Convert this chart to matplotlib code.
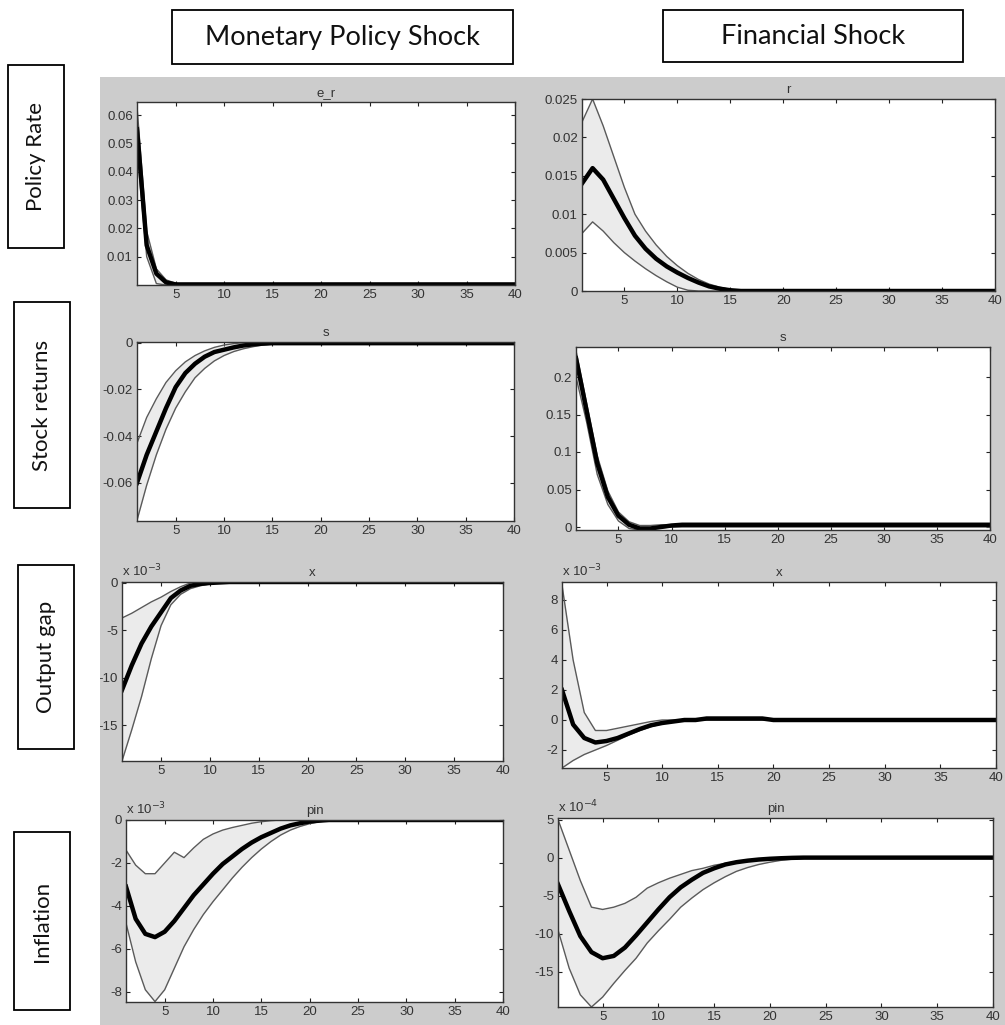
import matplotlib.pyplot as plt
from matplotlib.patches import Rectangle

W, H = 1005, 1025

PERIODS = list(range(1, 41))

# --- impulse responses (median and bands) ---------------------------------------
# monetary policy shock
er_mid = [0.055, 0.014, 0.004, 0.0009, 0.0002]
er_hi = [0.063, 0.019, 0.0057, 0.0018, 0.0006, 0.0001]
er_lo = [0.048, 0.010, 0.0005, 0.0]

s_mp_mid = [-0.060, -0.048, -0.038, -0.028, -0.019, -0.013, -0.009, -0.006, -0.004,
            -0.003, -0.002, -0.0012, -0.0007, -0.0004, -0.0002]
s_mp_hi = [-0.043, -0.032, -0.024, -0.017, -0.012, -0.0082, -0.0055, -0.0035, -0.002,
           -0.001, -0.0004, 0.0]
s_mp_lo = [-0.076, -0.061, -0.048, -0.037, -0.028, -0.021, -0.015, -0.011, -0.0078,
           -0.0055, -0.0038, -0.0026, -0.0017, -0.001, -0.0006, -0.0003]

# x 10^-3
x_mp_mid = [-11.3, -8.7, -6.4, -4.6, -3.1, -1.6, -0.8, -0.3, -0.1, 0.0, 0.05, 0.1, 0.1,
            0.1, 0.1]
x_mp_hi = [-3.7, -3.2, -2.6, -2.0, -1.5, -0.9, -0.4, 0.0, 0.2, 0.3, 0.3, 0.25, 0.2, 0.1]
x_mp_lo = [-18.8, -15.5, -12.0, -8.0, -4.5, -2.3, -1.2, -0.6, -0.3, -0.1, 0.0]

# x 10^-3
pi_mp_mid = [-3.1, -4.6, -5.3, -5.45, -5.2, -4.7, -4.1, -3.5, -3.0, -2.5, -2.05, -1.7,
             -1.35, -1.05, -0.8, -0.6, -0.4, -0.25, -0.15, -0.07, -0.03, 0.0]
pi_mp_hi = [-1.4, -2.1, -2.5, -2.5, -2.0, -1.5, -1.75, -1.3, -0.9, -0.65, -0.47, -0.35,
            -0.25, -0.15, -0.08, -0.03, 0.0]
pi_mp_lo = [-4.8, -6.6, -7.9, -8.45, -7.9, -6.9, -5.9, -5.1, -4.4, -3.8, -3.25, -2.7,
            -2.2, -1.75, -1.35, -1.0, -0.7, -0.47, -0.3, -0.17, -0.08, -0.03, 0.0]

# financial shock
r_fs_mid = [0.014, 0.016, 0.0145, 0.012, 0.0095, 0.0072, 0.0055, 0.0042, 0.0032, 0.0024,
            0.0017, 0.0011, 0.0006, 0.0003, 0.0001, 0.0]
r_fs_hi = [0.022, 0.025, 0.0215, 0.0175, 0.0135, 0.0100, 0.0078, 0.006, 0.0045, 0.0033,
           0.0023, 0.0015, 0.0009, 0.0005, 0.0002, 0.0]
r_fs_lo = [0.0075, 0.009, 0.0078, 0.0063, 0.005, 0.0039, 0.0029, 0.002, 0.0012, 0.0005,
           0.0001, 0.0]

s_fs_mid = [0.225, 0.155, 0.085, 0.04, 0.015, 0.003, -0.002, -0.002, 0.0, 0.002, 0.003]
s_fs_hi = [0.235, 0.165, 0.095, 0.048, 0.02, 0.007, 0.002, 0.002, 0.003]
s_fs_lo = [0.2, 0.14, 0.07, 0.03, 0.008, -0.002, -0.004, -0.003, -0.001, 0.0]

# x 10^-3
x_fs_mid = [2.0, -0.3, -1.2, -1.5, -1.4, -1.2, -0.9, -0.6, -0.35, -0.2, -0.1, 0.0, 0.0,
            0.1, 0.1, 0.1, 0.1, 0.1, 0.1, 0.0]
x_fs_hi = [9.0, 4.0, 0.5, -0.7, -0.7, -0.55, -0.4, -0.25, -0.1, 0.0]
x_fs_lo = [-3.2, -2.7, -2.3, -2.0, -1.7, -1.35, -1.0, -0.7, -0.45, -0.25, -0.1, 0.0]

# x 10^-4
pi_fs_mid = [-3.5, -7.0, -10.3, -12.4, -13.2, -12.9, -11.8, -10.2, -8.5, -6.8, -5.2,
             -3.9, -2.9, -2.0, -1.4, -0.9, -0.6, -0.4, -0.25, -0.15, -0.08, -0.03, 0.0]
pi_fs_hi = [5.0, 1.0, -3.0, -6.5, -6.8, -6.5, -6.0, -5.2, -4.0, -3.3, -2.7, -2.2, -1.7,
            -1.4, -1.0, -0.75, -0.5, -0.35, -0.2, -0.1, -0.05, 0.0]
pi_fs_lo = [-9.5, -14.5, -18.0, -19.6, -18.3, -16.5, -14.8, -13.2, -11.2, -9.6, -8.1,
            -6.5, -5.3, -4.2, -3.3, -2.5, -1.8, -1.3, -0.9, -0.6, -0.35, -0.2, -0.1, 0.0]

COL_HEADERS = ["Monetary Policy Shock", "Financial Shock"]
ROW_LABELS = ["Policy Rate", "Stock returns", "Output gap", "Inflation"]


def pad(vals, n=40):
    # responses have died out: hold the last value to the horizon
    return vals + [vals[-1]] * (n - len(vals))


def px(x0, y0, x1, y1):
    return [x0 / W, 1 - y1 / H, (x1 - x0) / W, (y1 - y0) / H]


TICK_FONT = {"family": "Liberation Sans", "size": 9.5}

# panel: (pixel box, title, mid, hi, lo, ylim, yticks, yticklabels, exponent)
PANELS = [
    ((137, 102, 515, 285), "e_r", er_mid, er_hi, er_lo, (0, 0.0646),
     [0.01, 0.02, 0.03, 0.04, 0.05, 0.06], None, None),
    ((582, 99, 995, 291), "r", r_fs_mid, r_fs_hi, r_fs_lo, (0, 0.025),
     [0, 0.005, 0.01, 0.015, 0.02, 0.025], ["0", "0.005", "0.01", "0.015", "0.02", "0.025"], None),
    ((137, 342, 514, 521), "s", s_mp_mid, s_mp_hi, s_mp_lo, (-0.0763, 0.0003),
     [-0.06, -0.04, -0.02, 0], ["-0.06", "-0.04", "-0.02", "0"], None),
    ((576, 347, 990, 530), "s", s_fs_mid, s_fs_hi, s_fs_lo, (-0.004, 0.24),
     [0, 0.05, 0.1, 0.15, 0.2], ["0", "0.05", "0.1", "0.15", "0.2"], None),
    ((122, 582, 503, 761), "x", x_mp_mid, x_mp_hi, x_mp_lo, (-18.8, 0.1),
     [-15, -10, -5, 0], ["-15", "-10", "-5", "0"], "-3"),
    ((562, 582, 996, 768), "x", x_fs_mid, x_fs_hi, x_fs_lo, (-3.2, 9.2),
     [-2, 0, 2, 4, 6, 8], ["-2", "0", "2", "4", "6", "8"], "-3"),
    ((126, 820, 503, 1002), "pin", pi_mp_mid, pi_mp_hi, pi_mp_lo, (-8.47, 0),
     [-8, -6, -4, -2, 0], ["-8", "-6", "-4", "-2", "0"], "-3"),
    ((558, 818, 993, 1007), "pin", pi_fs_mid, pi_fs_hi, pi_fs_lo, (-19.6, 5.2),
     [-15, -10, -5, 0, 5], ["-15", "-10", "-5", "0", "5"], "-4"),
]

fig = plt.figure(figsize=(W / 100, H / 100), dpi=100)
fig.patch.set_facecolor("white")

# MATLAB figure background
fig.patches.append(Rectangle((100 / W, 0), 1 - 100 / W, 1 - 77 / H,
                             transform=fig.transFigure, facecolor="#cccccc",
                             edgecolor="none", zorder=-5))

for box, title, mid, hi, lo, ylim, yticks, ylabels, expo in PANELS:
    ax = fig.add_axes(px(*box))
    mid, hi, lo = pad(mid), pad(hi), pad(lo)
    ax.fill_between(PERIODS, lo, hi, color="#ebebeb", linewidth=0)
    ax.plot(PERIODS, hi, color="#5a5a5a", linewidth=1.0)
    ax.plot(PERIODS, lo, color="#5a5a5a", linewidth=1.0)
    ax.plot(PERIODS, mid, color="black", linewidth=3.2)
    ax.set_xlim(1, 40)
    ax.set_ylim(*ylim)
    ax.set_xticks(range(5, 41, 5))
    ax.set_yticks(yticks)
    if ylabels is not None:
        ax.set_yticklabels(ylabels)
    ax.tick_params(direction="in", length=3, width=0.8, top=True, right=True,
                   colors="#222222", labelcolor="#333333", labelsize=9.5, pad=3)
    for lab in ax.get_xticklabels() + ax.get_yticklabels():
        lab.set_fontfamily("Liberation Sans")
    for sp in ax.spines.values():
        sp.set_color("#333333")
        sp.set_linewidth(1.0)
    ax.set_title(title, fontdict=TICK_FONT, color="#333333", pad=4)
    if expo is not None:
        ax.text(0.0, 1.015, r"x 10$^{%s}$" % expo, transform=ax.transAxes,
                fontdict=TICK_FONT, color="#333333", va="bottom", ha="left")

# white strip left of the grey background (clips the minus signs, as in the source)
fig.patches.append(Rectangle((0, 0), 100 / W, 1, transform=fig.transFigure,
                             facecolor="white", edgecolor="none", zorder=5))

# column headers
for (x0, y0, x1, y1), text in zip([(172, 10, 513, 64), (663, 10, 963, 62)], COL_HEADERS):
    fig.patches.append(Rectangle((x0 / W, 1 - y1 / H), (x1 - x0) / W, (y1 - y0) / H,
                                 transform=fig.transFigure, facecolor="white",
                                 edgecolor="black", linewidth=1.3, zorder=6))
    fig.text((x0 + x1) / 2 / W, 1 - (y0 + y1) / 2 / H, text, ha="center", va="center",
             fontsize=19.5, family="Lato", color="#111111", zorder=7)

# row labels
ROW_BOXES = [(8, 65, 64, 248), (14, 302, 70, 508), (18, 565, 74, 749), (14, 832, 70, 1010)]
for (x0, y0, x1, y1), text in zip(ROW_BOXES, ROW_LABELS):
    fig.patches.append(Rectangle((x0 / W, 1 - y1 / H), (x1 - x0) / W, (y1 - y0) / H,
                                 transform=fig.transFigure, facecolor="white",
                                 edgecolor="black", linewidth=1.3, zorder=6))
    fig.text((x0 + x1) / 2 / W, 1 - (y0 + y1) / 2 / H, text, ha="center", va="center",
             rotation=90, fontsize=16, family="Lato", color="#111111", zorder=7)

fig.savefig("out.png", dpi=100)
